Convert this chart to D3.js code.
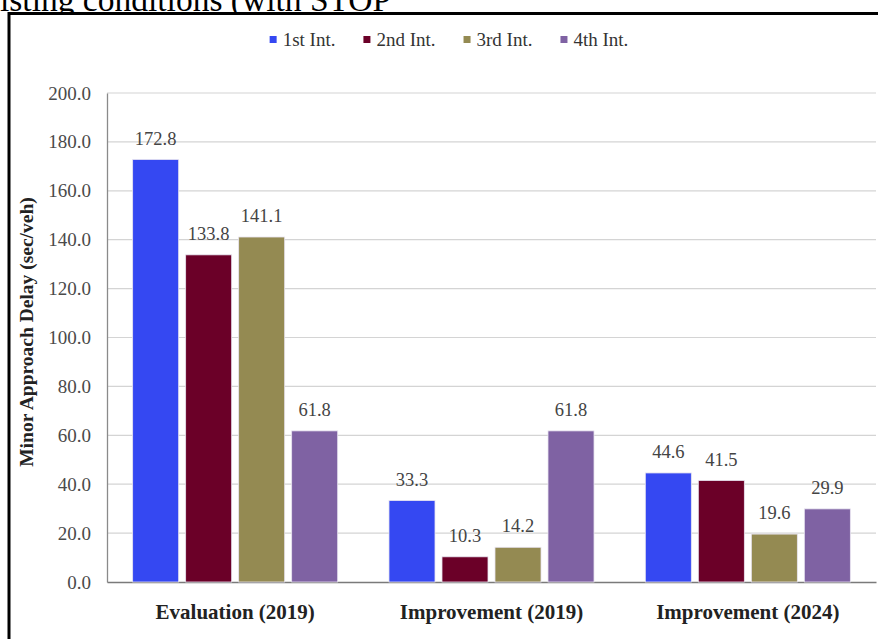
<!DOCTYPE html>
<html>
<head>
<meta charset="utf-8">
<script src="https://cdn.jsdelivr.net/npm/d3@7"></script>
<style>
  body { margin: 0; background: #fff; }
  svg { display: block; }
  text { font-family: "Liberation Serif", "DejaVu Serif", serif; }
</style>
</head>
<body>
<div id="chart"></div>
<script>
// data
var categories = ["Evaluation (2019)", "Improvement (2019)", "Improvement (2024)"];
var seriesNames = ["1st Int.", "2nd Int.", "3rd Int.", "4th Int."];
var int1 = [172.8, 33.3, 44.6];
var int2 = [133.8, 10.3, 41.5];
var int3 = [141.1, 14.2, 19.6];
var int4 = [61.8, 61.8, 29.9];
var yTicks = [0, 20, 40, 60, 80, 100, 120, 140, 160, 180, 200];
var colors = ["#3548F2", "#6B0028", "#948A52", "#7F62A3"];

var svgWidth = 878;
var svgHeight = 639;
var margin = { top: 93, right: 2, bottom: 57, left: 107 };
var width = svgWidth - margin.left - margin.right;
var height = svgHeight - margin.top - margin.bottom;

var svg = d3.select("#chart")
  .append("svg")
  .attr("width", svgWidth)
  .attr("height", svgHeight);

// caption line above the figure (cut off by the page top, as in the source)
svg.append("text")
  .attr("x", 0)
  .attr("y", 10.5)
  .style("font-size", "33.5px")
  .attr("fill", "#000")
  .text("isting conditions (with STOP");

// figure frame
svg.append("rect")
  .attr("x", 9)
  .attr("y", 13.5)
  .attr("width", 900)
  .attr("height", 700)
  .attr("fill", "#fff")
  .attr("stroke", "#000")
  .attr("stroke-width", 3);

var chartGroup = svg.append("g")
  .attr("transform", `translate(${margin.left}, ${margin.top})`);

var seriesValues = [int1, int2, int3, int4];
var rows = categories.map(function(c, i) {
  return { category: c, values: seriesNames.map(function(s, j) {
    return { name: s, value: seriesValues[j][i], color: colors[j] };
  }) };
});

var x0 = d3.scaleBand()
  .domain(categories)
  .range([0, width])
  .padding(0);

var x1 = d3.scaleBand()
  .domain(seriesNames)
  .range([0, x0.bandwidth()])
  .paddingInner(0.132)
  .paddingOuter(0.484);

var y = d3.scaleLinear()
  .domain([0, 200])
  .range([height, 0]);

// gridlines
chartGroup.append("g")
  .selectAll("line")
  .data(yTicks.slice(1))
  .enter()
  .append("line")
  .attr("x1", 0)
  .attr("x2", width)
  .attr("y1", d => y(d))
  .attr("y2", d => y(d))
  .attr("stroke", "#d4d4d4")
  .attr("stroke-width", 1.2);

// y axis
var leftAxis = d3.axisLeft(y)
  .tickValues(yTicks)
  .tickFormat(d3.format(".1f"))
  .tickSize(0)
  .tickPadding(16);

var yAxis = chartGroup.append("g").call(leftAxis);
yAxis.select(".domain").attr("stroke", "#8a8a8a").attr("stroke-width", 1.3);
yAxis.selectAll("text")
  .style("font-family", "'Liberation Serif', serif")
  .style("font-size", "19px")
  .attr("fill", "#4a4a4a");

// x axis
var bottomAxis = d3.axisBottom(x0).tickSize(0).tickPadding(22);
var xAxis = chartGroup.append("g")
  .attr("transform", `translate(0, ${height})`)
  .call(bottomAxis);
xAxis.select(".domain").attr("stroke", "#7a7a7a").attr("stroke-width", 1.3);
xAxis.selectAll("text")
  .style("font-family", "'Liberation Serif', serif")
  .style("font-size", "21px")
  .style("font-weight", "bold")
  .attr("fill", "#222");

// bars
var groups = chartGroup.selectAll(".group")
  .data(rows)
  .enter()
  .append("g")
  .attr("class", "group")
  .attr("transform", d => `translate(${x0(d.category)}, 0)`);

groups.selectAll("rect")
  .data(d => d.values)
  .enter()
  .append("rect")
  .attr("x", d => x1(d.name))
  .attr("y", d => y(d.value))
  .attr("width", x1.bandwidth())
  .attr("height", d => height - y(d.value))
  .attr("fill", d => d.color)
  .attr("stroke", "#e8e4f0")
  .attr("stroke-width", 0.8);

groups.selectAll(".val")
  .data(d => d.values)
  .enter()
  .append("text")
  .attr("class", "val")
  .attr("x", d => x1(d.name) + x1.bandwidth() / 2)
  .attr("y", d => y(d.value) - 15)
  .style("text-anchor", "middle")
  .style("font-size", "18.5px")
  .attr("fill", "#444")
  .text(d => d3.format(".1f")(d.value));

// y axis title
svg.append("text")
  .attr("transform", "translate(33, 332) rotate(-90)")
  .style("text-anchor", "middle")
  .style("font-size", "19.5px")
  .style("font-weight", "bold")
  .attr("fill", "#222")
  .text("Minor Approach Delay (sec/veh)");

// legend
var legend = svg.append("g");
var lx = 0;
var itemGap = 28;
seriesNames.forEach(function(name, i) {
  var item = legend.append("g").attr("transform", `translate(${lx}, 0)`);
  item.append("rect")
    .attr("x", 0)
    .attr("y", -10)
    .attr("width", 7)
    .attr("height", 7)
    .attr("fill", colors[i]);
  var t = item.append("text")
    .attr("x", 13)
    .attr("y", 0)
    .style("font-size", "19px")
    .attr("fill", "#333")
    .text(name);
  lx += 13 + t.node().getComputedTextLength() + itemGap;
});
lx -= itemGap;
legend.attr("transform", `translate(${449 - lx / 2}, 46)`);
</script>
</body>
</html>
